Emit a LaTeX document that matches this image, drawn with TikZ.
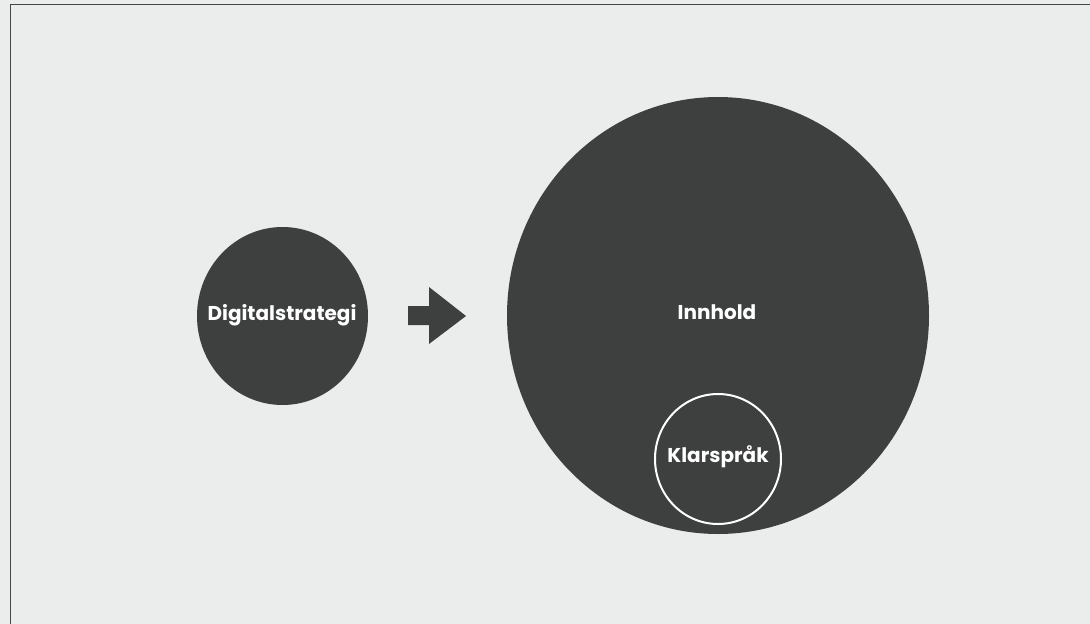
\documentclass[tikz,border=0pt]{standalone}
\usepackage{fontspec}
\setmainfont{Poppins}
\usetikzlibrary{shapes.geometric}
\definecolor{bg}{HTML}{EBECEC}
\definecolor{dark}{HTML}{3E403F}
\definecolor{frame}{HTML}{454746}
\tikzset{
  blob/.style={ellipse, fill=dark, inner sep=0pt},
  ring/.style={ellipse, draw=white, line width=2pt, fill=dark, inner sep=0pt},
  lbl/.style={text=white, inner sep=0pt, font=\fontsize{20pt}{23pt}\selectfont\bfseries}
}
\begin{document}
\begin{tikzpicture}[x=1pt,y=-1pt]
\fill[bg] (0,0) rectangle (1090,624);
\useasboundingbox (0,0) rectangle (1090,624);
\draw[frame, line width=1.6pt] (10.5,624) -- (10.5,4.5) -- (1090,4.5);
\node[blob, minimum width=171pt, minimum height=178pt] (digi) at (282.5,316) {};
\node[lbl] (digit) at (282,315) {Digitalstrategi};
\fill[dark] (408,306) -- (429,306) -- (429,287) -- (466,316) -- (429,344) -- (429,325) -- (408,325) -- cycle;
\node[blob, minimum width=422pt, minimum height=437pt] (inn) at (718,315.5) {};
\node[lbl] (innt) at (717,312) {Innhold};
\node[ring, minimum width=126pt, minimum height=130pt] (klar) at (718,459) {};
\node[lbl] (klart) at (718,457) {Klarspråk};
\end{tikzpicture}
\end{document}
